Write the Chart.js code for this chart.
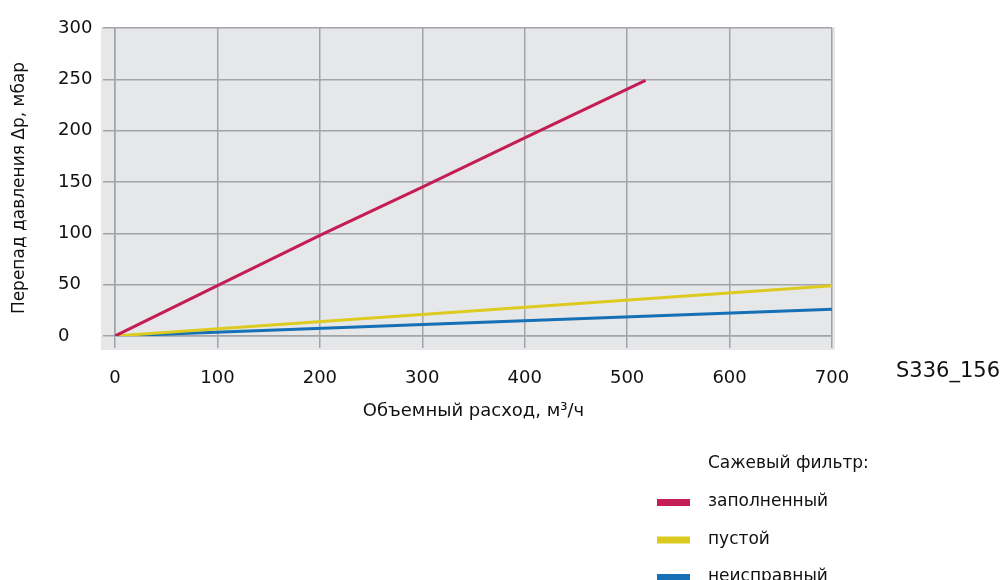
<!DOCTYPE html>
<html>
<head>
<meta charset="utf-8">
<script src="https://cdn.jsdelivr.net/npm/chart.js@4.4.1/dist/chart.umd.min.js"></script>
<style>
  html, body { margin: 0; background: #fff; }
  #wrap { width: 1005px; height: 580px; }
</style>
</head>
<body>
<div id="wrap"><canvas id="grafico"></canvas></div>
<script>
// Объемный расход (м3/ч) и перепад давления (мбар) для каждой линии
const rashodZapolnenny = [0, 100, 200, 300, 400, 518];
const davlenieZapolnenny = [0, 49, 98, 145, 193, 249];
const rashodPustoy = [0, 700];
const davleniePustoy = [0, 49];
const rashodNeispravny = [0, 700];
const davlenieNeispravny = [0, 26];

const nazvaniya = ["заполненный", "пустой", "неисправный"];
const cveta = ["#c41c55", "#dccb1e", "#1570b6"];

const xTicks = [0, 100, 200, 300, 400, 500, 600, 700];
const yTicks = [0, 50, 100, 150, 200, 250, 300];

const tituloX = "Объемный расход, м³/ч";
const tituloY = "Перепад давления Δp, мбар";
const tituloLegendy = "Сажевый фильтр:";
const kodRisunka = "S336_156";

const GRID = "#a2a4a7";
const FONT = "'DejaVu Sans', sans-serif";

function tochki(xs, ys) {
  return xs.map((x, i) => ({ x, y: ys[i] }));
}

// светло-серый фон поля графика
const fonPolya = {
  id: "fonPolya",
  beforeDraw(chart) {
    const { ctx, chartArea: a } = chart;
    ctx.save();
    ctx.fillStyle = "#e6e7e9";
    ctx.fillRect(a.left - 14, a.top - 1, a.right - a.left + 17, a.bottom - a.top + 15);
    ctx.restore();
  }
};

// подпись оси Y, код рисунка и легенда
const podpisi = {
  id: "podpisi",
  afterDraw(chart) {
    const c = chart.ctx;
    c.save();
    c.fillStyle = "#111";
    c.textBaseline = "middle";

    c.font = "17px " + FONT;
    c.save();
    c.translate(20, 188);
    c.rotate(-Math.PI / 2);
    c.textAlign = "center";
    c.fillText(tituloY, 0, 0);
    c.restore();

    c.font = "21px " + FONT;
    c.textAlign = "left";
    c.fillText(kodRisunka, 896, 372);

    c.font = "17px " + FONT;
    c.fillText(tituloLegendy, 708, 464);
    chart.data.datasets.forEach((ds, i) => {
      const y = 502 + i * 37.5;
      c.fillStyle = ds.borderColor;
      c.fillRect(657, y - 3, 33, 7);
      c.fillStyle = "#111";
      c.fillText(ds.label, 708, y);
    });
    c.restore();
  }
};

const nabory = [
  tochki(rashodZapolnenny, davlenieZapolnenny),
  tochki(rashodPustoy, davleniePustoy),
  tochki(rashodNeispravny, davlenieNeispravny)
];

new Chart(document.getElementById("grafico"), {
  type: "line",
  data: {
    datasets: nabory.map((d, i) => ({
      label: nazvaniya[i],
      data: d,
      borderColor: cveta[i],
      borderWidth: 3,
      pointRadius: 0,
      tension: 0
    }))
  },
  options: {
    responsive: true,
    maintainAspectRatio: false,
    animation: false,
    layout: { padding: { left: 58, right: 173, top: 28, bottom: 144 } },
    plugins: {
      legend: { display: false },
      tooltip: { enabled: false }
    },
    scales: {
      x: {
        type: "linear",
        min: 0,
        max: 700,
        afterFit: s => { s.height = 100; },
        afterBuildTicks: s => { s.ticks = xTicks.map(v => ({ value: v })); },
        grid: { color: GRID, lineWidth: 1.5, tickLength: 12 },
        border: { color: GRID, width: 1.5 },
        ticks: { padding: 20, color: "#111", font: { family: FONT, size: 18 }, maxRotation: 0 },
        title: {
          display: true,
          text: tituloX,
          color: "#111",
          font: { family: FONT, size: 18 },
          padding: { top: 14, bottom: 14 }
        }
      },
      y: {
        min: 0,
        max: 300,
        afterFit: s => { s.width = 57; },
        afterBuildTicks: s => { s.ticks = yTicks.map(v => ({ value: v })); },
        grid: { color: GRID, lineWidth: 1.5, tickLength: 12 },
        border: { color: GRID, width: 1.5 },
        ticks: { crossAlign: "far", color: "#111", font: { family: FONT, size: 18 } }
      }
    }
  },
  plugins: [fonPolya, podpisi]
});
</script>
</body>
</html>
